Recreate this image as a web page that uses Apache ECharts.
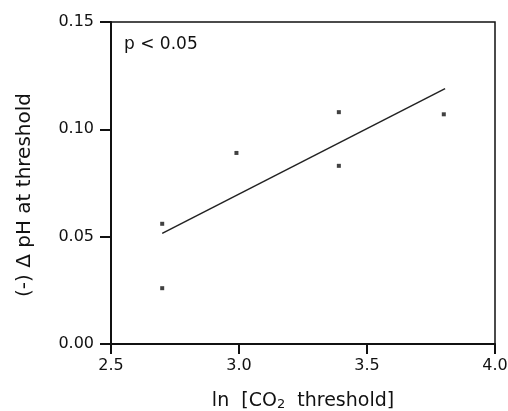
<!DOCTYPE html>
<html>
<head>
<meta charset="utf-8">
<script src="https://cdn.jsdelivr.net/npm/echarts@6/dist/echarts.min.js"></script>
<style>
  html, body { margin: 0; padding: 0; background: #fff; }
  #chart { width: 508px; height: 411px; }
</style>
</head>
<body>
<div id="chart"></div>
<script>
// measured points: ln CO2 threshold vs (-) delta pH
let lnCO2 = [2.70, 2.70, 2.99, 3.39, 3.39, 3.80]
let deltaPH = [0.056, 0.026, 0.089, 0.108, 0.083, 0.107]

// regression line end points
let fitX = [2.70, 3.805]
let fitY = [0.0515, 0.119]

let xTickLabels = ['2.5', '3.0', '3.5', '4.0']
let yTickLabels = ['0.00', '0.05', '0.10', '0.15']

let font = 'DejaVu Sans'
let ink = '#111'

let chart = echarts.init(document.getElementById('chart'))

let option = {
  backgroundColor: '#fff',
  animation: false,
  title: {
    text: 'p < 0.05',
    left: 124,
    top: 36,
    padding: 0,
    textStyle: { fontFamily: font, fontSize: 17, fontWeight: 'normal', color: ink }
  },
  grid: {
    left: 111, right: 13, top: 22, bottom: 67,
    outerBoundsMode: 'none',
    show: true, borderColor: ink, borderWidth: 1.5
  },
  xAxis: {
    type: 'value',
    min: Number(xTickLabels[0]),
    max: Number(xTickLabels[xTickLabels.length - 1]),
    interval: 0.5,
    splitLine: { show: false },
    axisLine: { lineStyle: { color: ink, width: 2 } },
    axisTick: { length: 10, lineStyle: { color: ink, width: 2 } },
    axisLabel: {
      margin: 14, color: ink, fontFamily: font, fontSize: 16,
      formatter: (v, i) => xTickLabels[i]
    },
    name: 'ln  [CO{sub|2}  threshold]',
    nameLocation: 'middle',
    nameGap: 48,
    nameTextStyle: {
      color: ink, fontFamily: font, fontSize: 19,
      rich: { sub: { fontFamily: font, fontSize: 13, color: ink, verticalAlign: 'bottom', padding: [6, 0, 0, 0] } }
    }
  },
  yAxis: {
    type: 'value',
    min: Number(yTickLabels[0]),
    max: Number(yTickLabels[yTickLabels.length - 1]),
    interval: 0.05,
    splitLine: { show: false },
    axisLine: { show: true, lineStyle: { color: ink, width: 2 } },
    axisTick: { show: true, length: 11, lineStyle: { color: ink, width: 2 } },
    axisLabel: {
      margin: 17, color: ink, fontFamily: font, fontSize: 16,
      formatter: (v, i) => yTickLabels[i]
    },
    name: '(-) Δ pH at threshold',
    nameLocation: 'middle',
    nameGap: 76,
    nameTextStyle: {
      color: ink, fontFamily: font, fontSize: 20,
      padding: [0, 24, 0, 0]
    }
  },
  series: [
    {
      type: 'line',
      data: fitX.map((x, i) => [x, fitY[i]]),
      showSymbol: false,
      lineStyle: { color: '#222', width: 1.5 }
    },
    {
      type: 'scatter',
      data: lnCO2.map((x, i) => [x, deltaPH[i]]),
      symbol: 'rect',
      symbolSize: 4,
      itemStyle: { color: ink }
    }
  ]
}

chart.setOption(option)
</script>
</body>
</html>
